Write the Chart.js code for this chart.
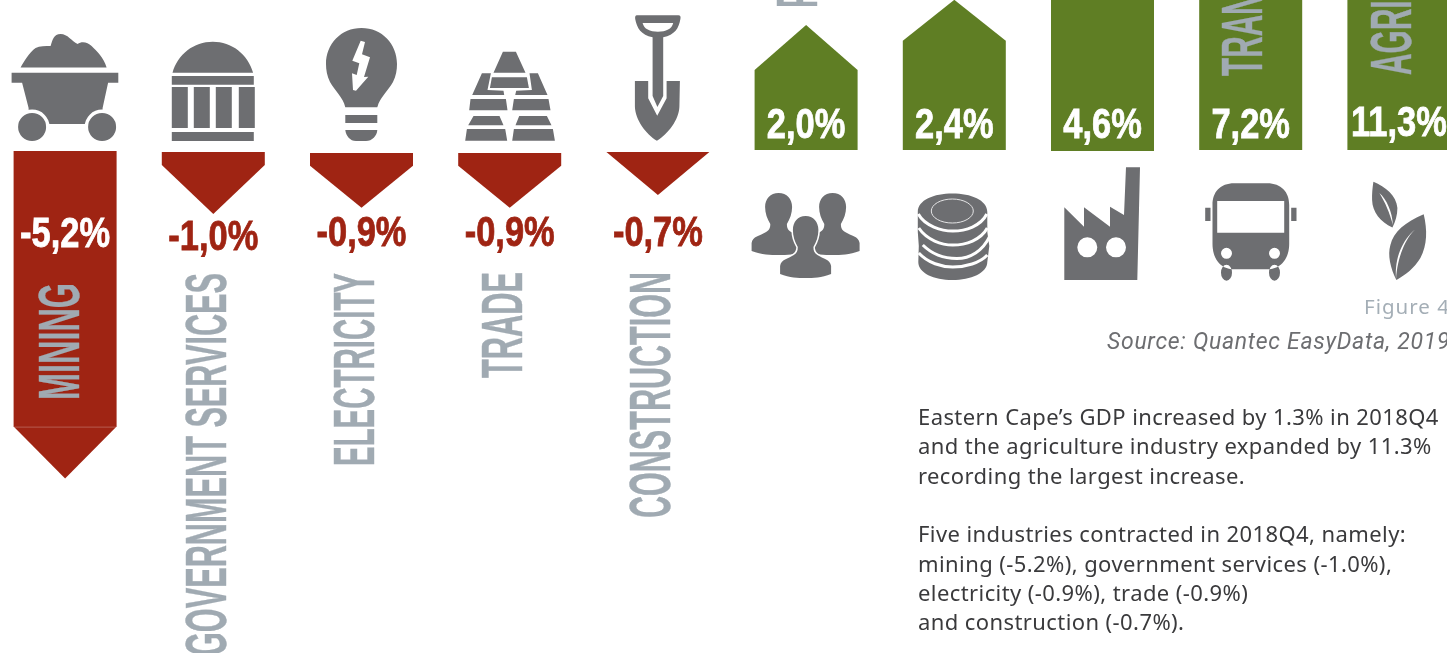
<!DOCTYPE html>
<html>
<head>
<meta charset="utf-8">
<title>GDP growth by industry, 2018Q4</title>
<script src="https://cdn.jsdelivr.net/npm/chart.js@4/dist/chart.umd.js"></script>
<style>
  html, body { margin: 0; width: 1447px; height: 653px; overflow: hidden; background: #fff; }
  #wrap { position: absolute; left: -9px; top: 0; width: 1482px; height: 653px; }
  .note { position: absolute; white-space: nowrap; }
  #figure { left: 1364px; top: 293px; font: 20.5px/26px "Noto Sans", sans-serif; letter-spacing: 1px; color: #a4aeb6; }
  #source { left: 1107px; top: 328px; font: italic 23px/28px Roboto, sans-serif; letter-spacing: 0.7px; color: #6d6e71; }
  #body { left: 918px; top: 402px; font: 22px/29.35px "Noto Sans", sans-serif; letter-spacing: 0.41px; color: #3a3a3c; }
</style>
</head>
<body>
<div id="wrap"><canvas id="chart" width="1482" height="653"></canvas></div>
<div class="note" id="figure">Figure 4</div>
<div class="note" id="source">Source: Quantec EasyData, 2019</div>
<div class="note" id="body">Eastern Cape’s GDP increased by 1.3% in 2018Q4<br>and the agriculture industry expanded by 11.3%<br>recording the largest increase.<br><br>Five industries contracted in 2018Q4, namely:<br>mining (-5.2%), government services (-1.0%),<br>electricity (-0.9%), trade (-0.9%)<br>and construction (-0.7%).</div>

<script>
const industries = ['MINING', 'GOVERNMENT SERVICES', 'ELECTRICITY', 'TRADE', 'CONSTRUCTION',
  'PERSONAL SERVICES', 'FINANCE', 'MANUFACTURING', 'TRANSPORT', 'AGRICULTURE'];
const growth = [-5.2, -1.0, -0.9, -0.9, -0.7, 2.0, 2.4, 4.6, 7.2, 11.3];

// ── Styling per column ────────────────────────────────────────────────────────
const RED = '#9f2413';
const GREEN = '#5f7e24';
const LABEL_GREY = '#a0aab2';
const ICON_GREY = '#6d6e71';
const headHeights = [52, 49, 42, 42, 43, 45, 41, 44, 44, 44];
const baseInsets = [0, 1, 2, 2, 1, 1, 1, 0, 1, 1];
const labelBottoms = [400, 656, 466, 378, 518, 7.7, -300, -300, 76, 75];
const labelLengths = [117, 383, 193, 106, 246, 300, 150, 300, 185, 215];
const labelShifts = [13.5, 12.5, 12.5, 12.5, 12.5, 11, 12, 12, 11.5, 12.5];
const valueBaselines = [246.5, 250, 246, 246, 246, 137.5, 137.5, 137.5, 137.5, 135.5];

function formatValue(v) {
  return v.toFixed(1).replace('.', ',') + '%';
}

// ── Icon outlines, each drawn around its column centre ────────────────────────
function person(cx, top, w) {
  const k = w / 26;
  const X = (d) => (cx + d * k).toFixed(1);
  const Y = (d) => (top + d).toFixed(1);
  return `M${X(0)},${Y(0)} C${X(8)},${Y(0)} ${X(13)},${Y(6)} ${X(13)},${Y(14)} C${X(13)},${Y(20)} ${X(11)},${Y(26)} ${X(8)},${Y(31)}
    C${X(8)},${Y(35)} ${X(9)},${Y(37)} ${X(12)},${Y(39)} C${X(18)},${Y(43)} ${X(25)},${Y(43)} ${X(26)},${Y(50)} L${X(26)},${Y(58)}
    C${X(16)},${Y(62)} ${X(8)},${Y(62)} ${X(0)},${Y(62)} C${X(-8)},${Y(62)} ${X(-16)},${Y(62)} ${X(-26)},${Y(58)} L${X(-26)},${Y(50)}
    C${X(-25)},${Y(43)} ${X(-18)},${Y(43)} ${X(-12)},${Y(39)} C${X(-9)},${Y(37)} ${X(-8)},${Y(35)} ${X(-8)},${Y(31)}
    C${X(-11)},${Y(26)} ${X(-13)},${Y(20)} ${X(-13)},${Y(14)} C${X(-13)},${Y(6)} ${X(-8)},${Y(0)} ${X(0)},${Y(0)} Z`;
}

function circle(cx, cy, r) {
  return `M${cx - r},${cy} A${r},${r} 0 1 0 ${cx + r},${cy} A${r},${r} 0 1 0 ${cx - r},${cy} Z`;
}

function ellipse(cx, cy, rx, ry) {
  return `M${cx - rx},${cy} A${rx},${ry} 0 1 0 ${cx + rx},${cy} A${rx},${ry} 0 1 0 ${cx - rx},${cy} Z`;
}

function quad(a, b, c, d, e, f, g, h) {
  return `M${a},${b} L${c},${d} L${e},${f} L${g},${h} Z`;
}

const icons = [
  { // mine cart, wheels sit in a white gap under the tub
    refX: 65.5,
    fill: [`M21,67.5 C24,62 30,52 36,48 C40,46 46,46 51,46 C53,40 54,34 61,34 C68,34 72,41 78,44 C82,41 88,42 92,46 C97,51 104,57 107,67.5 Z
      M12,72.7 L118.7,72.7 L118.7,82.7 L12,82.7 Z
      M22.5,82.7 L29,108 L29,124 L103,124 L103,108 L108.5,82.7 Z`],
    knock: [circle(32.5, 127, 17.5) + circle(102.5, 127, 17.5)],
    top: [circle(32.5, 127, 14) + circle(102.5, 127, 14)],
  },
  { // government building
    refX: 213.5,
    fill: [`M172.7,72.7 C178,54 194,41.7 213,41.7 C232,41.7 248,54 253.3,72.7 Z
      M172,76 L254,76 L254,84.7 L172,84.7 Z
      M172,87 L188,87 L188,128 L172,128 Z M194,87 L210,87 L210,128 L194,128 Z
      M216,87 L232,87 L232,128 L216,128 Z M239,87 L255,87 L255,128 L239,128 Z
      M172,132 L254,132 L254,141 L172,141 Z`],
  },
  { // light bulb with a bolt
    refX: 361.5,
    fill: [`M345.3,107.3 C343,97 335,91 330,82 C327,76 326,70 326,64 C326,44 341,28 361.5,28 C382,28 397,44 397,64 C397,70 396,76 393,82 C388,91 380,97 377.3,107.3 Z
      M345.3,115 L377.3,115 L377.3,123 L345.3,123 Z
      M345.3,130 L377.3,130 C377,136 372,141 366,141 L356,141 C350,141 346,136 345.3,130 Z`],
    knock: ['M360.7,40.7 L365,42 L362,54.3 L370,57.3 L364,77 L368.3,76.7 L356,90.7 L353,90 L352,73.3 L356.7,75 L359.3,63.3 L352.3,60.7 Z'],
  },
  { // stacked gold bars
    refX: 509.5,
    fill: [quad(502.7, 51.7, 515.7, 51.7, 525.3, 72.7, 493.3, 72.7)
      + quad(491.7, 77.3, 526.7, 77.3, 528.7, 88, 489.7, 88)
      + 'M481.7,73.3 L490.7,73.3 L487.3,90 L503.3,90.7 L504,95 L472,95 Z'
      + 'M529.3,73.3 L537.7,73.3 L547.3,95 L515,95 L516,90.7 L531.7,90 Z'
      + quad(470.3, 99, 505.7, 99, 507.3, 110.3, 469, 110.3)
      + quad(513.7, 99, 548.3, 99, 550.3, 110.3, 512, 110.3)
      + quad(473.3, 116, 499.3, 116, 503.3, 125.3, 468, 125.3)
      + quad(519, 116, 546.7, 116, 551.3, 125.3, 515.3, 125.3)
      + quad(466.7, 129, 505, 129, 507, 140.7, 465, 140.7)
      + quad(513.7, 129, 552.7, 129, 554.7, 140.7, 512, 140.7)],
  },
  { // shovel
    refX: 658,
    fill: [`M637,15.3 L678.5,15.3 C680.5,15.3 681,17 680.5,19 C679,28 675,35 663.3,37.3 L663.3,96 L657.5,107 L652.7,96 L652.7,37.3 C641,35 637,28 635.3,19 C635,17 635.5,15.3 637,15.3 Z
      M635,81 L648.3,81 L648.3,98.3 L657.3,115.7 L666.7,98.3 L666.7,81 L680,81 L679.5,106.7 C679,120 668,134 657,140.7 C646,134 635.5,120 635,106.7 Z`],
    knock: ['M642.7,23 L673.3,23 C672,29 666,31.7 658,31.7 C650,31.7 644,29 642.7,23 Z'],
  },
  { // group of people
    refX: 806.5,
    fill: [person(779, 193, 27) + person(833, 193, 27)],
    halo: person(806, 216, 25.5),
  },
  { // stack of coins
    refX: 954.5,
    fill: ['M918,212 C918,200 934,193.5 952.7,193.5 C971,193.5 987.5,200 987.5,212 L987.5,232 L989.5,246 L987.5,262 C987.5,273 971,280 952.7,280 C934,280 918.5,273 918.5,262 L919,246 L918,232 Z'],
    arcs: ['M918.5,214 C925,226 942,231 953,231 C966,231 981,226 987,214',
      'M919,228 C927,240 942,245 953,245 C966,245 981,240 987.5,228',
      'M923,245 C932,254 945,258.5 957,258.5 C970,258.5 983,251 990,236',
      'M919,253 C928,263 942,267 953,267 C966,267 980,263 987.5,255'],
    rings: [[952.5, 211, 21, 12]],
  },
  { // factory
    refX: 1102.5,
    fill: ['M1064.3,280 L1064.3,207.3 L1084,226.7 L1084,207.3 L1110,226.7 L1110,206.7 L1124,215 L1126,167.3 L1140,167.3 L1137.3,280 Z'],
    knock: [circle(1087.3, 247.3, 10) + circle(1116, 247.3, 10)],
  },
  { // bus
    refX: 1250.5,
    fill: [`M1234,183.3 L1267,183.3 C1281,183.3 1289,192 1289,205 L1289,244 C1289,257 1282,269.3 1267,269.3 L1234,269.3 C1219,269.3 1212.3,257 1212.3,244 L1212.3,205 C1212.3,192 1220,183.3 1234,183.3 Z
      M1205,207.7 L1210.3,207.7 L1210.3,221 L1205,221 Z M1291,207.7 L1296.3,207.7 L1296.3,221 L1291,221 Z`
      + ellipse(1226.3, 272.7, 5.5, 8) + ellipse(1274.3, 272.7, 5.5, 8)],
    knock: ['M1217,201 L1284,201 L1284,232.7 L1217,232.7 Z' + circle(1226.3, 253.3, 5.5) + circle(1274.3, 253.3, 5.5)],
  },
  { // leaves
    refX: 1398.5,
    fill: [`M1373,181.7 C1385,187 1396,195 1397,208 C1397,215 1395,222 1392,227.5 C1380,222 1372,212 1371.7,200 C1371.5,194 1372,188 1373,181.7 Z
      M1423.3,214.3 C1427,230 1427,245 1420,258 C1414,268 1405,275 1396,280 C1390,268 1387,255 1390,245 C1393,232 1405,222 1423.3,214.3 Z`],
    knock: ['M1379,193 C1386,199 1392,212 1392.5,225 C1389,212 1385,203 1379,193 Z',
      'M1415,229.3 C1405,238 1397,258 1395.7,279 C1394,258 1402,240 1415,229.3 Z'],
  },
];

// ── Plugins ───────────────────────────────────────────────────────────────────
const arrowBars = {
  id: 'arrowBars',
  afterDatasetsDraw(chart) {
    const { ctx } = chart;
    chart.getDatasetMeta(0).data.forEach((bar, i) => {
      const { x, y, base, width } = bar.getProps(['x', 'y', 'base', 'width'], true);
      const dir = y > base ? 1 : -1;
      const half = width / 2;
      const start = base + dir * baseInsets[i];
      const shoulder = y - dir * headHeights[i];
      ctx.save();
      ctx.fillStyle = growth[i] < 0 ? RED : GREEN;
      ctx.beginPath();
      ctx.moveTo(x - half, start);
      ctx.lineTo(x + half, start);
      ctx.lineTo(x + half, shoulder);
      ctx.lineTo(x, y);
      ctx.lineTo(x - half, shoulder);
      ctx.closePath();
      ctx.fill();
      // the long bar keeps a faint seam where its head starts
      if (i === 0) {
        ctx.fillStyle = 'rgba(255,255,255,0.25)';
        ctx.fillRect(x - half, shoulder, width, 1);
      }
      ctx.restore();
    });
  },
};

const columnText = {
  id: 'columnText',
  afterDatasetsDraw(chart) {
    const { ctx } = chart;
    chart.getDatasetMeta(0).data.forEach((bar, i) => {
      const x = bar.x;

      // rotated industry name, squeezed to its column length
      ctx.save();
      ctx.font = 'bold 58px "Liberation Sans", sans-serif';
      ctx.fillStyle = LABEL_GREY;
      ctx.strokeStyle = LABEL_GREY;
      ctx.lineWidth = 0.4;
      ctx.textBaseline = 'alphabetic';
      ctx.translate(x + labelShifts[i], labelBottoms[i]);
      ctx.rotate(-Math.PI / 2);
      ctx.scale(labelLengths[i] / ctx.measureText(industries[i]).width, 1);
      ctx.fillText(industries[i], 0, 0);
      ctx.strokeText(industries[i], 0, 0);
      ctx.restore();

      // value label, white when it sits on the bar
      const color = growth[i] > 0 || i === 0 ? '#fff' : RED;
      ctx.save();
      ctx.font = 'bold 42px "Liberation Sans", sans-serif';
      ctx.textAlign = 'center';
      ctx.textBaseline = 'alphabetic';
      ctx.fillStyle = color;
      ctx.strokeStyle = color;
      ctx.lineWidth = 0.8;
      ctx.translate(x, valueBaselines[i]);
      ctx.scale(0.82, 1);
      ctx.fillText(formatValue(growth[i]), 0, 0);
      ctx.strokeText(formatValue(growth[i]), 0, 0);
      ctx.restore();
    });
  },
};

const industryIcons = {
  id: 'industryIcons',
  afterDatasetsDraw(chart) {
    const { ctx } = chart;
    const zero = chart.scales.y.getPixelForValue(0);
    chart.getDatasetMeta(0).data.forEach((bar, i) => {
      const icon = icons[i];
      ctx.save();
      ctx.translate(bar.x - icon.refX, zero - 151);
      ctx.fillStyle = ICON_GREY;
      icon.fill.forEach((d) => ctx.fill(new Path2D(d)));
      ctx.fillStyle = '#fff';
      (icon.knock || []).forEach((d) => ctx.fill(new Path2D(d)));
      ctx.fillStyle = ICON_GREY;
      (icon.top || []).forEach((d) => ctx.fill(new Path2D(d)));
      if (icon.halo) {
        const p = new Path2D(icon.halo);
        ctx.strokeStyle = '#fff';
        ctx.lineWidth = 3;
        ctx.stroke(p);
        ctx.fill(p);
      }
      (icon.arcs || []).forEach((d) => {
        ctx.strokeStyle = '#fff';
        ctx.lineWidth = 3;
        ctx.stroke(new Path2D(d));
      });
      (icon.rings || []).forEach(([cx, cy, rx, ry]) => {
        ctx.strokeStyle = '#e4e4e5';
        ctx.lineWidth = 1;
        ctx.beginPath();
        ctx.ellipse(cx, cy, rx, ry, 0, 0, Math.PI * 2);
        ctx.stroke();
      });
      ctx.restore();
    });
  },
};

new Chart(document.getElementById('chart'), {
  type: 'bar',
  data: {
    labels: industries,
    datasets: [{
      data: growth,
      backgroundColor: 'transparent',
      borderWidth: 0,
      barThickness: 103,
    }],
  },
  options: {
    responsive: false,
    animation: false,
    layout: { padding: 0 },
    plugins: { legend: { display: false }, tooltip: { enabled: false }, title: { display: false } },
    scales: {
      x: { display: false, grid: { display: false } },
      y: { display: false, min: -7.968, max: 2.397, grid: { display: false } },
    },
  },
  plugins: [arrowBars, columnText, industryIcons],
});
</script>
</body>
</html>
